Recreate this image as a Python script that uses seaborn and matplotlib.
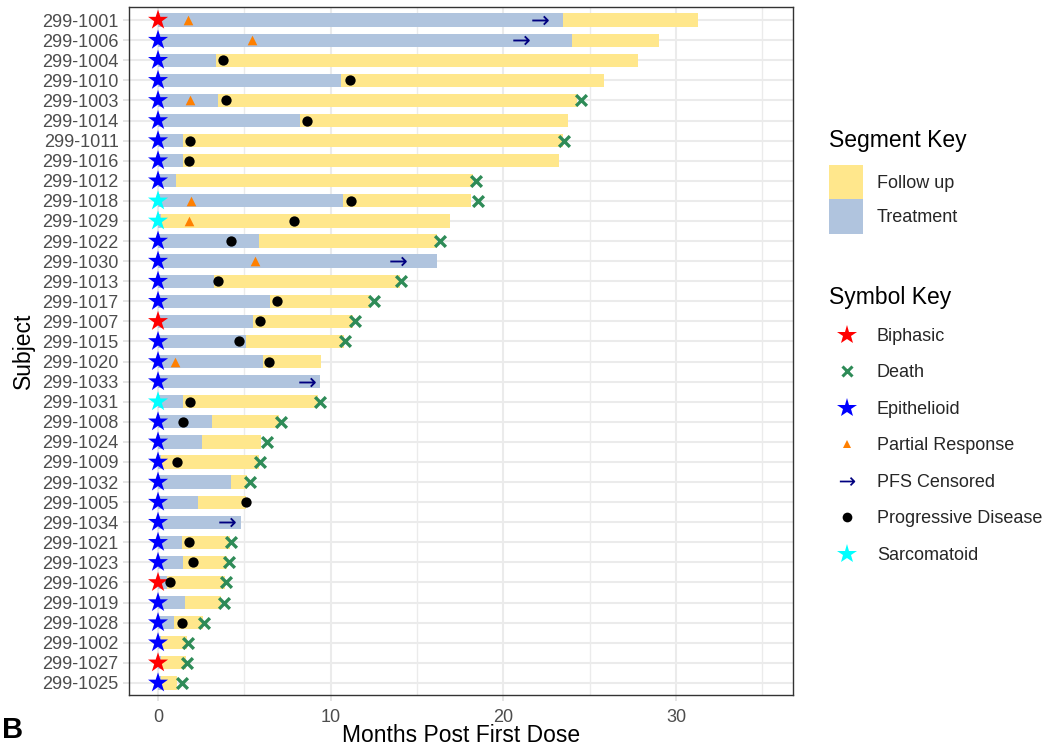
import seaborn as sns
import pandas as pd
import numpy as np
import matplotlib.pyplot as plt
from matplotlib.patches import Patch
from matplotlib.lines import Line2D

# subjects, top to bottom
subjects = ["299-1001", "299-1006", "299-1004", "299-1010", "299-1003", "299-1014",
            "299-1011", "299-1016", "299-1012", "299-1018", "299-1029", "299-1022",
            "299-1030", "299-1013", "299-1017", "299-1007", "299-1015", "299-1020",
            "299-1033", "299-1031", "299-1008", "299-1024", "299-1009", "299-1032",
            "299-1005", "299-1034", "299-1021", "299-1023", "299-1026", "299-1019",
            "299-1028", "299-1002", "299-1027", "299-1025"]

# months on treatment
treatment_end = [23.45, 23.97, 3.34, 10.58, 3.47, 8.2, 1.43, 1.43, 1.04, 10.7, 0.2, 5.83,
                 16.13, 3.24, 6.49, 5.5, 5.08, 6.08, 9.4, 1.43, 3.13, 2.57, 0.2, 4.23,
                 2.3, 4.83, 1.37, 1.43, 0.5, 1.56, 0.93, 0.2, 0.2, 0.2]

# end of follow up
followup_end = [31.27, 29.03, 27.81, 25.8, 24.24, 23.74, 23.43, 23.22, 18.26, 18.1, 16.9, 16.18,
                16.13, 14.0, 12.28, 11.31, 10.79, 9.42, 9.4, 9.29, 7.02, 5.96, 5.83, 5.13,
                5.1, 4.83, 4.17, 3.98, 3.88, 3.63, 2.59, 1.66, 1.6, 1.08]

biphasic = ["299-1001", "299-1007", "299-1026", "299-1027"]
sarcomatoid = ["299-1018", "299-1029", "299-1031"]

pr_subj = ["299-1001", "299-1006", "299-1003", "299-1018", "299-1029", "299-1030", "299-1020"]
pr_time = [1.74, 5.44, 1.86, 1.93, 1.78, 5.6, 1.0]

pfs_subj = ["299-1001", "299-1006", "299-1030", "299-1033", "299-1034"]
pfs_time = [22.1, 21.0, 13.9, 8.6, 4.0]

pd_subj = ["299-1004", "299-1010", "299-1003", "299-1014", "299-1011", "299-1016", "299-1018",
           "299-1029", "299-1022", "299-1013", "299-1017", "299-1007", "299-1015", "299-1020",
           "299-1031", "299-1008", "299-1009", "299-1005", "299-1021", "299-1023", "299-1026",
           "299-1028"]
pd_time = [3.76, 11.1, 3.96, 8.6, 1.87, 1.78, 11.15, 7.86, 4.2, 3.49, 6.87, 5.92, 4.67, 6.41,
           1.83, 1.45, 1.12, 5.12, 1.78, 2.01, 0.69, 1.41]

death_subj = ["299-1003", "299-1011", "299-1012", "299-1018", "299-1022", "299-1013", "299-1017",
              "299-1007", "299-1015", "299-1031", "299-1008", "299-1024", "299-1009", "299-1032",
              "299-1021", "299-1023", "299-1026", "299-1019", "299-1028", "299-1002", "299-1027",
              "299-1025"]
death_time = [24.5, 23.5, 18.4, 18.5, 16.3, 14.07, 12.5, 11.4, 10.8, 9.38, 7.1, 6.3, 5.89, 5.3,
              4.23, 4.09, 3.92, 3.82, 2.66, 1.75, 1.65, 1.37]

yellow = "#FFE78C"
steel = "#B0C4DE"

sns.set_theme(style="whitegrid")
plt.rcParams['font.family'] = ['Liberation Sans', 'DejaVu Sans']

df = pd.DataFrame({"Subject": subjects, "treat": treatment_end, "follow": followup_end})

fig = plt.figure(figsize=(10.54, 7.48), dpi=100)
ax = fig.add_axes([0.1224, 0.0709, 0.63, 0.9197])

sns.barplot(data=df, x="follow", y="Subject", order=subjects, orient="h", color=yellow,
            saturation=1, width=0.66, linewidth=0, ax=ax, zorder=2)
sns.barplot(data=df, x="treat", y="Subject", order=subjects, orient="h", color=steel,
            saturation=1, width=0.66, linewidth=0, ax=ax, zorder=2)

pos = {s: i for i, s in enumerate(subjects)}

def ys(lst):
    return [pos[s] for s in lst]

# histology stars at time zero
hist_color = ["red" if s in biphasic else ("cyan" if s in sarcomatoid else "blue") for s in subjects]
ax.scatter(np.zeros(len(subjects)), ys(subjects), marker="*", s=230, c=hist_color,
           linewidths=0, zorder=4)
ax.scatter(pr_time, ys(pr_subj), marker="^", s=48, color="#FF7F00", linewidths=0, zorder=4)
ax.scatter(pfs_time, ys(pfs_subj), marker=r"$\rightarrow$", s=140, color="#000080",
           linewidths=0, zorder=4)
ax.scatter(pd_time, ys(pd_subj), marker="o", s=55, color="black", linewidths=0, zorder=4)
ax.scatter(death_time, ys(death_subj), marker="x", s=60, color="#2E8B57", linewidths=2.4, zorder=4)

ax.set_xlim(-1.68, 36.77)
ax.set_ylim(33.6, -0.65)
ax.set_xticks([0, 10, 20, 30])
ax.set_xticks([5, 15, 25, 35], minor=True)
ax.grid(True, which="major", color="#EBEBEB", linewidth=1.5)
ax.grid(True, which="minor", axis="x", color="#EBEBEB", linewidth=1.0)
ax.set_axisbelow(True)
for sp in ax.spines.values():
    sp.set_color("#333333")
    sp.set_linewidth(1.0)
ax.tick_params(axis="both", labelsize=13, labelcolor="#4D4D4D", length=4, color="#E0E0E0",
               width=1.2, which="major", left=True, bottom=True)
ax.tick_params(axis="x", which="major", pad=6)
ax.tick_params(axis="x", which="minor", length=0)
ax.set_xlabel("Months Post First Dose", fontsize=16.5, color="black", labelpad=-1)
ax.set_ylabel("Subject", fontsize=16.5, color="black", labelpad=5)

# legend titles as plain text, entries as title-less legends
fig.text(0.7865, 0.8128, "Segment Key", fontsize=16.5, color="black", va="center", ha="left")
seg_handles = [Patch(facecolor=yellow, edgecolor="none", label="Follow up"),
               Patch(facecolor=steel, edgecolor="none", label="Treatment")]
fig.legend(handles=seg_handles, loc="upper left",
           bbox_to_anchor=(0.7865, 0.7794), frameon=False, fontsize=13,
           borderpad=0, borderaxespad=0,
           handlelength=1.9, handleheight=2.55, labelspacing=0, handletextpad=0.75)

fig.text(0.7865, 0.6029, "Symbol Key", fontsize=16.5, color="black", va="center", ha="left")
sym_handles = [
    Line2D([], [], linestyle="none", marker="*", markersize=15, color="red", markeredgewidth=0, label="Biphasic"),
    Line2D([], [], linestyle="none", marker="x", markersize=7, color="#2E8B57", markeredgewidth=2.2, label="Death"),
    Line2D([], [], linestyle="none", marker="*", markersize=15, color="blue", markeredgewidth=0, label="Epithelioid"),
    Line2D([], [], linestyle="none", marker="^", markersize=6, color="#FF7F00", markeredgewidth=0, label="Partial Response"),
    Line2D([], [], linestyle="none", marker=r"$\rightarrow$", markersize=11, color="#000080", markeredgewidth=0, label="PFS Censored"),
    Line2D([], [], linestyle="none", marker="o", markersize=7, color="black", markeredgewidth=0, label="Progressive Disease"),
    Line2D([], [], linestyle="none", marker="*", markersize=15, color="cyan", markeredgewidth=0, label="Sarcomatoid"),
]
fig.legend(handles=sym_handles, loc="upper left",
           bbox_to_anchor=(0.7865, 0.5615), frameon=False, fontsize=13,
           borderpad=0, borderaxespad=0,
           handlelength=2.0, labelspacing=1.08, handletextpad=0.65)

fig.text(0.002, 0.013, "B", fontsize=21, fontweight="bold", color="black")

fig.savefig("out.png", dpi=100)
